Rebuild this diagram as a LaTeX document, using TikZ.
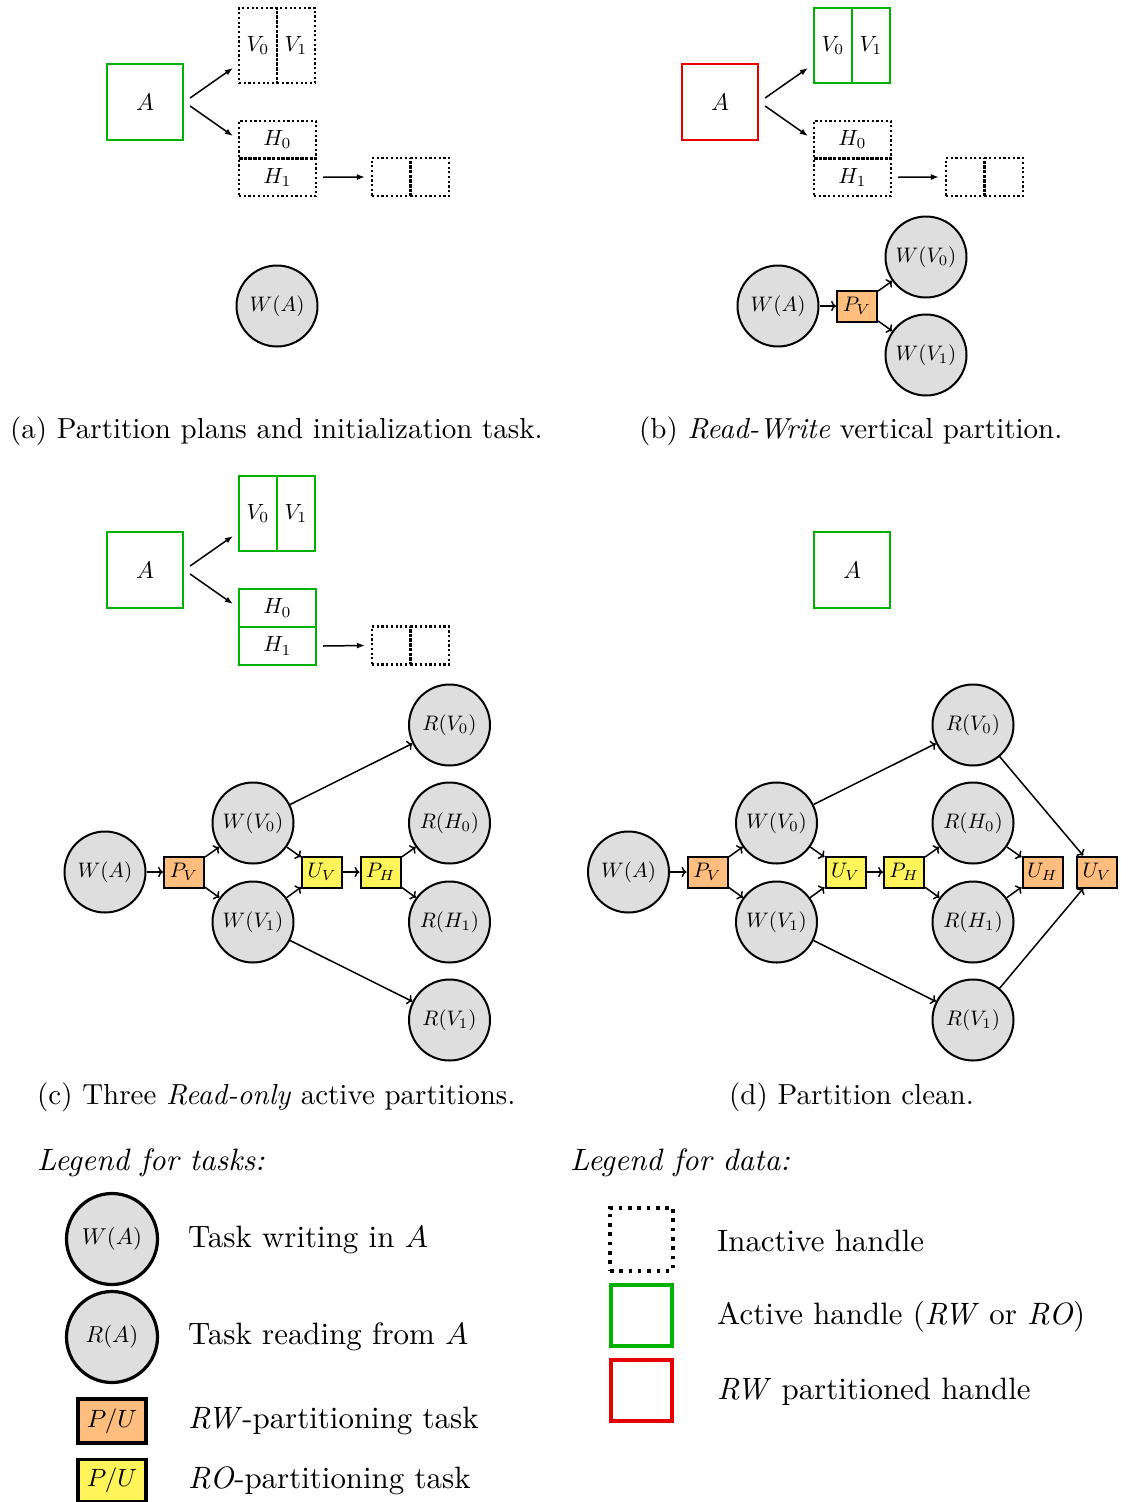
\documentclass[tikz,border=0pt]{standalone}
\usepackage{graphicx}
\usetikzlibrary{arrows.meta}
\definecolor{actgreen}{RGB}{0,178,0}
\definecolor{pred}{RGB}{230,0,0}
\definecolor{rwfill}{RGB}{255,190,125}
\definecolor{rofill}{RGB}{255,245,90}
\definecolor{taskgray}{RGB}{222,222,222}
\newcommand{\gn}[1]{\scalebox{2.1}{$#1$}}
\newcommand{\dn}[1]{\scalebox{2.2}{$#1$}}
\newcommand{\an}[1]{\scalebox{2.4}{$#1$}}
\newcommand{\lcirc}[1]{\scalebox{2.3}{$#1$}}
\newcommand{\lbox}[1]{\scalebox{2.5}{$#1$}}
\newcommand{\capt}[1]{\scalebox{2.9}{#1}}
\newcommand{\legt}[1]{\scalebox{3.09}{#1}}
\tikzset{
  cell/.style={draw, rectangle, inner sep=0pt, line width=2.2pt},
  inact/.style={cell, dash pattern=on 2.2pt off 2.5pt},
  act/.style={cell, draw=actgreen},
  part/.style={cell, draw=pred},
  dataarrow/.style={-{Latex[length=8pt,width=6pt]}, line width=1.5pt},
  task/.style={draw, circle, fill=taskgray, line width=2pt, minimum size=81pt, inner sep=0pt},
  rwtask/.style={draw, rectangle, fill=rwfill, line width=2pt, minimum width=40pt, minimum height=31pt, inner sep=0pt},
  rotask/.style={rwtask, fill=rofill},
  dep/.style={->, line width=1.5pt},
  captext/.style={anchor=base west, inner sep=0pt},
  legtext/.style={anchor=base west, inner sep=0pt},
}
\begin{document}
\begin{tikzpicture}[x=1pt, y=-1pt]
\useasboundingbox (0,0) rectangle (1121,1502);

% ---------------- (a) ----------------
\node[act, minimum size=76pt] (aA) at (145,102) {\an{A}};
\node[inact, minimum width=38pt, minimum height=75pt] (aV0) at (258,45.5) {\dn{V_0}};
\node[inact, minimum width=38pt, minimum height=75pt] (aV1) at (296,45.5) {\dn{V_1}};
\node[inact, minimum width=77pt, minimum height=37.5pt] (aH0) at (277.5,139.75) {\dn{H_0}};
\node[inact, minimum width=77pt, minimum height=37.5pt] (aH1) at (277.5,177.25) {\dn{H_1}};
\node[inact, minimum width=38.5pt, minimum height=38pt] (aS0) at (391.25,177) {};
\node[inact, minimum width=38.5pt, minimum height=38pt] (aS1) at (429.75,177) {};
\draw[dataarrow] ([shift={(6,-4)}]aA.east) -- ([shift={(-5,22.5)}]aV0.west);
\draw[dataarrow] ([shift={(6,4)}]aA.east) -- ([shift={(-5,-3.75)}]aH0.west);
\draw[dataarrow] ([shift={(6,0)}]aH1.east) -- ([shift={(-6,0)}]aS0.west);
\node[task] (aWA) at (277,306) {\gn{W(A)}};
\node[captext] (capa) at (10,438) {\capt{(a) Partition plans and initialization task.}};

% ---------------- (b) ----------------
\node[part, minimum size=76pt] (bA) at (720,102) {\an{A}};
\node[act, minimum width=38pt, minimum height=75pt] (bV0) at (833,45.5) {\dn{V_0}};
\node[act, minimum width=38pt, minimum height=75pt] (bV1) at (871,45.5) {\dn{V_1}};
\node[inact, minimum width=77pt, minimum height=37.5pt] (bH0) at (852.5,139.75) {\dn{H_0}};
\node[inact, minimum width=77pt, minimum height=37.5pt] (bH1) at (852.5,177.25) {\dn{H_1}};
\node[inact, minimum width=38.5pt, minimum height=38pt] (bS0) at (965.25,177) {};
\node[inact, minimum width=38.5pt, minimum height=38pt] (bS1) at (1003.75,177) {};
\draw[dataarrow] ([shift={(6,-4)}]bA.east) -- ([shift={(-5,22.5)}]bV0.west);
\draw[dataarrow] ([shift={(6,4)}]bA.east) -- ([shift={(-5,-3.75)}]bH0.west);
\draw[dataarrow] ([shift={(6,0)}]bH1.east) -- ([shift={(-6,0)}]bS0.west);
\node[task] (bWA) at (778,306) {\gn{W(A)}};
\node[rwtask] (bPV) at (857,306) {\gn{P_V}};
\node[task] (bWV0) at (926,257) {\gn{W(V_0)}};
\node[task] (bWV1) at (926,355) {\gn{W(V_1)}};
\draw[dep] (bWA) -- (bPV);
\draw[dep] (bPV) -- (bWV0);
\draw[dep] (bPV) -- (bWV1);
\node[captext] (capb) at (639,438) {\capt{(b) \textit{Read-Write} vertical partition.}};

% ---------------- (c) ----------------
\node[act, minimum size=76pt] (cA) at (145,570) {\an{A}};
\node[act, minimum width=38pt, minimum height=75pt] (cV0) at (258,513.5) {\dn{V_0}};
\node[act, minimum width=38pt, minimum height=75pt] (cV1) at (296,513.5) {\dn{V_1}};
\node[act, minimum width=77pt, minimum height=38pt] (cH0) at (277.5,608) {\dn{H_0}};
\node[act, minimum width=77pt, minimum height=38pt] (cH1) at (277.5,646) {\dn{H_1}};
\node[inact, minimum width=38.5pt, minimum height=38pt] (cS0) at (391.25,645.5) {};
\node[inact, minimum width=38.5pt, minimum height=38pt] (cS1) at (429.75,645.5) {};
\draw[dataarrow] ([shift={(6,-4)}]cA.east) -- ([shift={(-5,22.5)}]cV0.west);
\draw[dataarrow] ([shift={(6,4)}]cA.east) -- ([shift={(-5,-4)}]cH0.west);
\draw[dataarrow] ([shift={(6,0)}]cH1.east) -- ([shift={(-6,0)}]cS0.west);

\node[task] (cWA) at (105,872) {\gn{W(A)}};
\node[rwtask] (cPV) at (184,872) {\gn{P_V}};
\node[task] (cWV0) at (253,823) {\gn{W(V_0)}};
\node[task] (cWV1) at (253,922) {\gn{W(V_1)}};
\node[rotask] (cUV) at (322,872) {\gn{U_V}};
\node[rotask] (cPH) at (380.5,872) {\gn{P_H}};
\node[task] (cRV0) at (449.5,725) {\gn{R(V_0)}};
\node[task] (cRH0) at (449.5,823) {\gn{R(H_0)}};
\node[task] (cRH1) at (449.5,922) {\gn{R(H_1)}};
\node[task] (cRV1) at (449.5,1020) {\gn{R(V_1)}};
\draw[dep] (cWA) -- (cPV);
\draw[dep] (cPV) -- (cWV0);
\draw[dep] (cPV) -- (cWV1);
\draw[dep] (cWV0) -- (cUV);
\draw[dep] (cWV1) -- (cUV);
\draw[dep] (cUV) -- (cPH);
\draw[dep] (cPH) -- (cRH0);
\draw[dep] (cPH) -- (cRH1);
\draw[dep] (cWV0) -- (cRV0);
\draw[dep] (cWV1) -- (cRV1);
\node[captext] (capc) at (37,1104) {\capt{(c) Three \textit{Read-only} active partitions.}};

% ---------------- (d) ----------------
\node[act, minimum size=76pt] (dA) at (852,570) {\an{A}};
\node[task] (dWA) at (628.5,872) {\gn{W(A)}};
\node[rwtask] (dPV) at (707.5,872) {\gn{P_V}};
\node[task] (dWV0) at (776.5,823) {\gn{W(V_0)}};
\node[task] (dWV1) at (776.5,922) {\gn{W(V_1)}};
\node[rotask] (dUV) at (845.5,872) {\gn{U_V}};
\node[rotask] (dPH) at (904,872) {\gn{P_H}};
\node[task] (dRV0) at (973,725) {\gn{R(V_0)}};
\node[task] (dRH0) at (973,823) {\gn{R(H_0)}};
\node[task] (dRH1) at (973,922) {\gn{R(H_1)}};
\node[task] (dRV1) at (973,1020) {\gn{R(V_1)}};
\node[rwtask] (dUH) at (1042.5,872) {\gn{U_H}};
\node[rwtask] (dUV2) at (1097,872) {\gn{U_V}};
\draw[dep] (dWA) -- (dPV);
\draw[dep] (dPV) -- (dWV0);
\draw[dep] (dPV) -- (dWV1);
\draw[dep] (dWV0) -- (dUV);
\draw[dep] (dWV1) -- (dUV);
\draw[dep] (dUV) -- (dPH);
\draw[dep] (dPH) -- (dRH0);
\draw[dep] (dPH) -- (dRH1);
\draw[dep] (dWV0) -- (dRV0);
\draw[dep] (dWV1) -- (dRV1);
\draw[dep] (dRH0) -- (dUH);
\draw[dep] (dRH1) -- (dUH);
\draw[dep] (dRV0) -- (dUV2);
\draw[dep] (dRV1) -- (dUV2);
\node[captext] (capd) at (729,1104) {\capt{(d) Partition clean.}};

% ---------------- legends ----------------
\node[legtext] (lt) at (37,1170) {\legt{\textit{Legend for tasks:}}};
\node[task, minimum size=91pt, line width=3.2pt] (lW) at (112,1239) {\lcirc{W(A)}};
\node[task, minimum size=91pt, line width=3.2pt] (lR) at (112,1337) {\lcirc{R(A)}};
\node[rwtask, minimum width=68pt, minimum height=44pt, line width=3.2pt] (lRW) at (112,1421) {\lbox{P/U}};
\node[rotask, minimum width=68pt, minimum height=42pt, line width=3.2pt] (lRO) at (112,1480.5) {\lbox{P/U}};
\node[legtext] (tW) at (188,1247) {\legt{Task writing in $A$}};
\node[legtext] (tR) at (188,1344) {\legt{Task reading from $A$}};
\node[legtext] (tRW) at (188,1428) {\legt{\textit{RW}-partitioning task}};
\node[legtext] (tRO) at (188,1488) {\legt{\textit{RO}-partitioning task}};

\node[legtext] (ld) at (570,1170) {\legt{\textit{Legend for data:}}};
\node[cell, minimum size=63pt, line width=4pt, dash pattern=on 3.5pt off 5.8pt] (lI) at (641.5,1239) {};
\node[cell, draw=actgreen, minimum size=61pt, line width=4pt] (lG) at (641.5,1315) {};
\node[cell, draw=pred, minimum size=61pt, line width=4pt] (lP) at (641.5,1390) {};
\node[legtext] (dI) at (717,1251) {\legt{Inactive handle}};
\node[legtext] (dG) at (717,1324) {\legt{Active handle (\textit{RW} or \textit{RO})}};
\node[legtext] (dP) at (717,1399) {\legt{\textit{RW} partitioned handle}};
\end{tikzpicture}
\end{document}
